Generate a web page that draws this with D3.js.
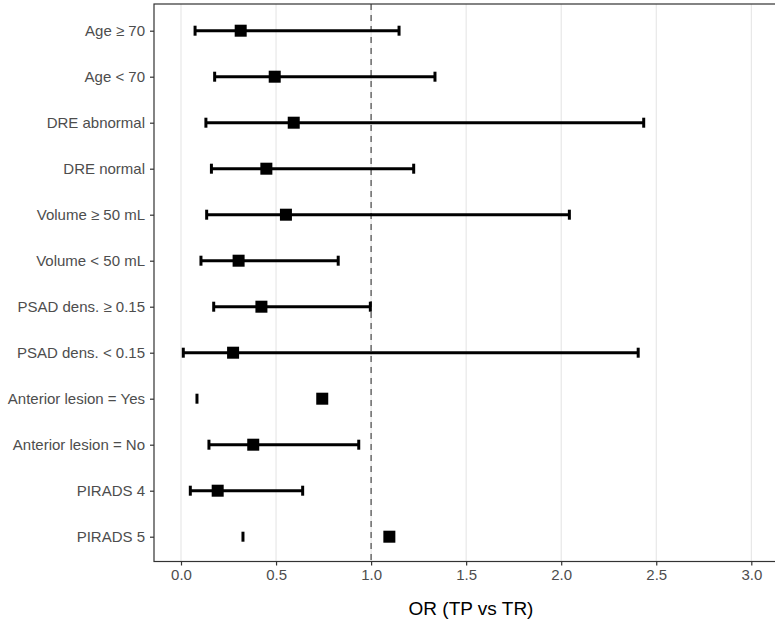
<!DOCTYPE html>
<html>
<head>
<meta charset="utf-8">
<script src="https://cdn.jsdelivr.net/npm/d3@7"></script>
<style>
  html, body { margin: 0; padding: 0; background: #fff; }
  svg { display: block; font-family: "Liberation Sans", Arial, sans-serif; }
</style>
</head>
<body>
<svg id="chart" width="775" height="622"></svg>
<script>
const categories = ["Age ≥ 70", "Age < 70", "DRE abnormal", "DRE normal", "Volume ≥ 50 mL", "Volume < 50 mL",
  "PSAD dens. ≥ 0.15", "PSAD dens. < 0.15", "Anterior lesion = Yes", "Anterior lesion = No", "PIRADS 4", "PIRADS 5"];
const oddsRatio = [0.314, 0.493, 0.593, 0.449, 0.552, 0.303, 0.423, 0.274, 0.743, 0.380, 0.193, 1.096];
const ciLower   = [0.074, 0.177, 0.131, 0.160, 0.135, 0.105, 0.172, 0.012, 0.084, 0.147, 0.049, 0.326];
const ciUpper   = [1.147, 1.336, 2.434, 1.224, 2.043, 0.827, 0.996, 2.405, null, 0.935, 0.640, null];
const xTicks = [0, 0.5, 1, 1.5, 2, 2.5, 3];
const refLine = 1;
const xTitle = "OR (TP vs TR)";

const svg = d3.select("#chart");
const panel = { left: 154, top: 4, right: 790, bottom: 561.5 };

const x = d3.scaleLinear().domain([0, 1]).range([181, 371.1]);
const y = d3.scalePoint().domain(categories).range([30.7, 536.7]);

const g = svg.append("g");

// gridlines
xTicks.forEach(t => {
  g.append("line")
    .attr("x1", x(t)).attr("x2", x(t))
    .attr("y1", panel.top).attr("y2", panel.bottom)
    .attr("stroke", "#e3e3e3").attr("stroke-width", 1);
});

// reference line
g.append("line")
  .attr("x1", x(refLine)).attr("x2", x(refLine))
  .attr("y1", panel.top).attr("y2", panel.bottom)
  .attr("stroke", "#555").attr("stroke-width", 1.3)
  .attr("stroke-dasharray", "6,5");

// error bars
const capH = 10;
categories.forEach((c, i) => {
  const yy = y(c);
  const lo = ciLower[i], hi = ciUpper[i];
  if (hi != null) {
    g.append("line").attr("x1", x(lo)).attr("x2", x(hi)).attr("y1", yy).attr("y2", yy)
      .attr("stroke", "#000").attr("stroke-width", 3);
    g.append("line").attr("x1", x(hi)).attr("x2", x(hi)).attr("y1", yy - capH / 2).attr("y2", yy + capH / 2)
      .attr("stroke", "#000").attr("stroke-width", 3);
  }
  g.append("line").attr("x1", x(lo)).attr("x2", x(lo)).attr("y1", yy - capH / 2).attr("y2", yy + capH / 2)
    .attr("stroke", "#000").attr("stroke-width", 3);
});

// points
const sz = 12;
g.selectAll("rect.pt").data(categories).join("rect").attr("class", "pt")
  .attr("x", (c, i) => x(oddsRatio[i]) - sz / 2)
  .attr("y", c => y(c) - sz / 2)
  .attr("width", sz).attr("height", sz)
  .attr("fill", "#000");

// panel border
svg.append("rect")
  .attr("x", panel.left).attr("y", panel.top)
  .attr("width", panel.right - panel.left).attr("height", panel.bottom - panel.top)
  .attr("fill", "none").attr("stroke", "#333").attr("stroke-width", 1.2);

// x axis
const xAxis = svg.append("g").attr("transform", `translate(0,${panel.bottom})`)
  .call(d3.axisBottom(x).tickValues(xTicks).tickFormat(d3.format(".1f")).tickSize(4).tickPadding(4));
xAxis.select(".domain").remove();
xAxis.selectAll("line").attr("stroke", "#333").attr("stroke-width", 1.2);
xAxis.selectAll("text").attr("fill", "#4d4d4d").style("font-size", "15px")
  .style("font-family", "'Liberation Sans', Arial, sans-serif");

// y axis
const yAxis = svg.append("g").attr("transform", `translate(${panel.left},0)`)
  .call(d3.axisLeft(y).tickSize(4).tickPadding(5));
yAxis.select(".domain").remove();
yAxis.selectAll("line").attr("stroke", "#333").attr("stroke-width", 1.2);
yAxis.selectAll("text").attr("fill", "#4d4d4d").style("font-size", "15px")
  .style("font-family", "'Liberation Sans', Arial, sans-serif");

// x title
svg.append("text")
  .attr("x", 471).attr("y", 615)
  .attr("text-anchor", "middle")
  .attr("fill", "#000")
  .style("font-size", "19px")
  .text(xTitle);
</script>
</body>
</html>
